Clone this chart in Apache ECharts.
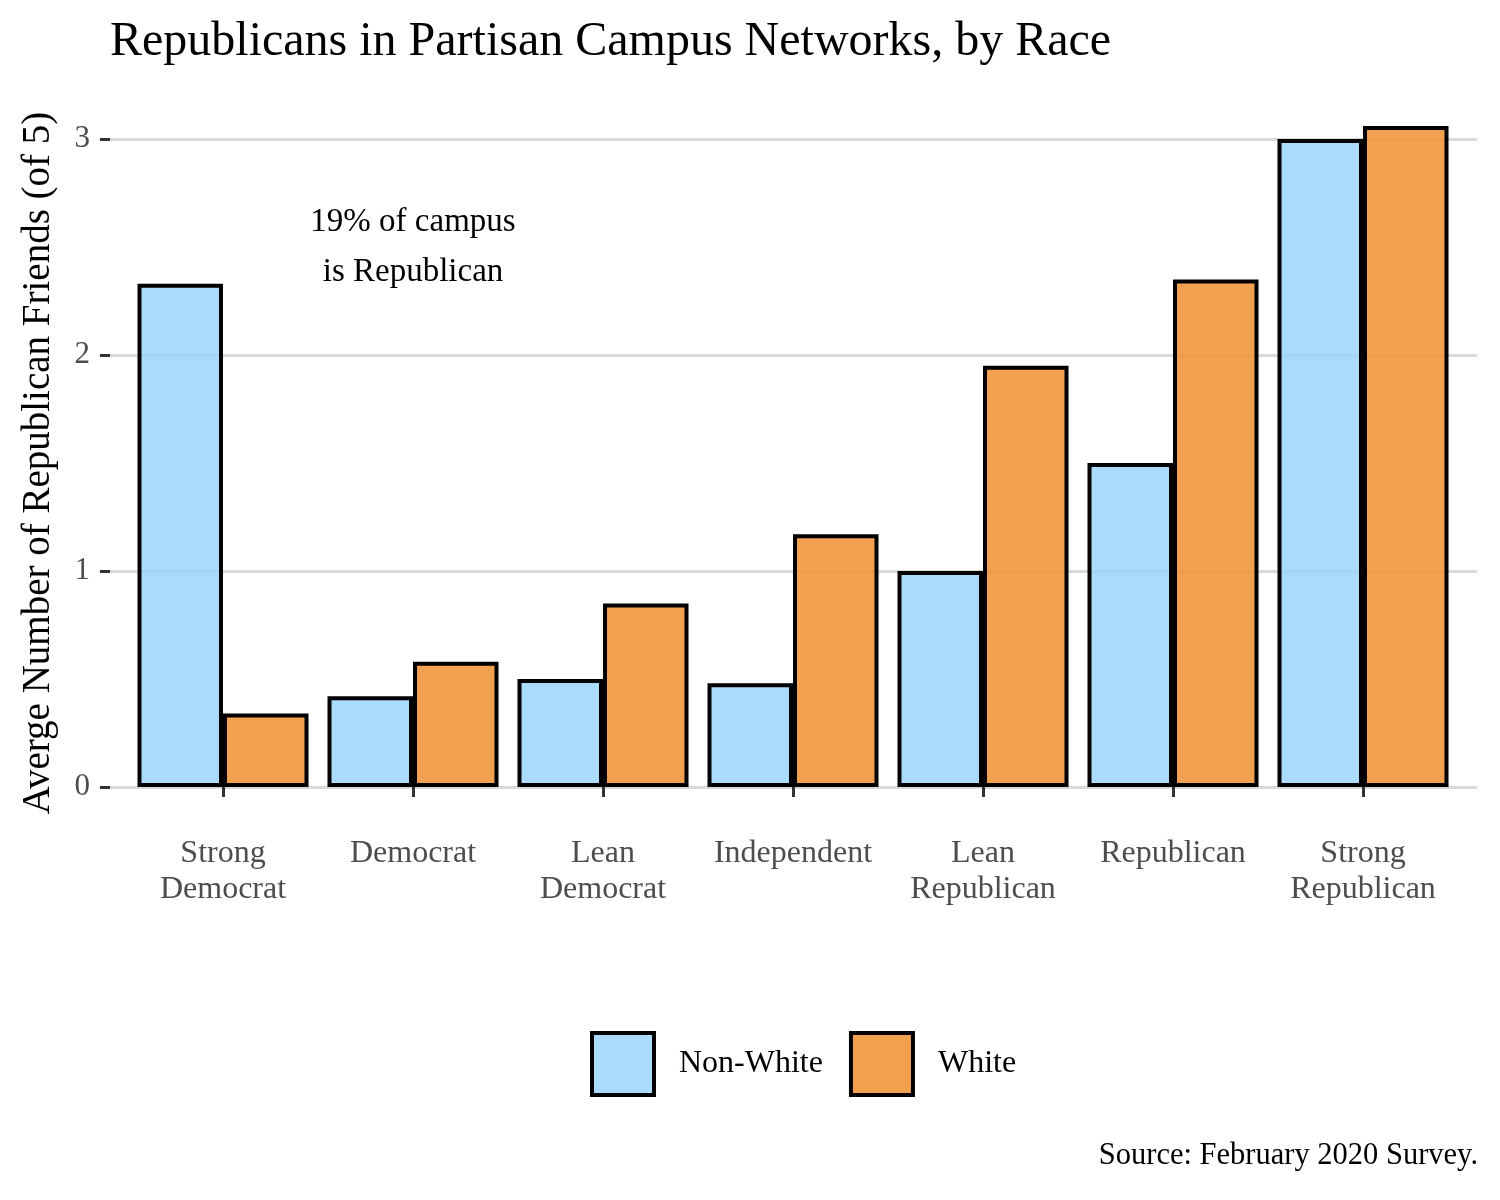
<!DOCTYPE html>
<html>
<head>
<meta charset="utf-8">
<script src="https://cdn.jsdelivr.net/npm/echarts@6/dist/echarts.min.js"></script>
<style>html,body{margin:0;padding:0;background:#fff}#c{width:1500px;height:1200px}</style>
</head>
<body>
<div id="c"></div>
<script>
const categories = ['Strong\nDemocrat','Democrat','Lean\nDemocrat','Independent','Lean\nRepublican','Republican','Strong\nRepublican'];
const nonWhite = [2.33, 0.42, 0.50, 0.48, 1.00, 1.50, 3.00];
const white = [0.34, 0.58, 0.85, 1.17, 1.95, 2.35, 3.06];
const yTicks = [0, 1, 2, 3];
const annotation = { category: 'Democrat', value: 2.5, text: '19% of campus\nis Republican' };

const FONT = 'Liberation Serif';
const chart = echarts.init(document.getElementById('c'));
chart.setOption({
  backgroundColor: '#fff',
  textStyle: { fontFamily: FONT },
  animation: false,
  grid: [
    { left: 110, right: 23, top: 139, bottom: 413 },
    { left: 128, right: 42, top: 139, bottom: 413 }
  ],
  xAxis: [
    { type: 'value', gridIndex: 0, min: 0, max: 1, show: false },
    { type: 'category', gridIndex: 1, data: categories, offset: 35,
      axisLine: { show: false },
      axisTick: { show: true, alignWithLabel: true, length: 10, lineStyle: { color: '#333', width: 3 } },
      axisLabel: { fontFamily: FONT, fontSize: 32, lineHeight: 36, color: '#4d4d4d', margin: 14, interval: 0 } }
  ],
  yAxis: [
    { type: 'value', gridIndex: 0, min: yTicks[0], max: yTicks[yTicks.length - 1], interval: 1,
      name: 'Averge Number of Republican Friends (of 5)', nameLocation: 'middle', nameGap: 52,
      nameTextStyle: { fontFamily: FONT, fontSize: 39, color: '#000' },
      axisLine: { show: false },
      axisTick: { show: true, length: 10, lineStyle: { color: '#333', width: 3 } },
      axisLabel: { fontFamily: FONT, fontSize: 31, color: '#4d4d4d', margin: 20 },
      splitLine: { show: true, lineStyle: { color: '#d9d9d9', width: 3 } } },
    { type: 'value', gridIndex: 1, min: 0, max: 3, show: false }
  ],
  legend: {
    data: ['Non-White', 'White'], left: 590, top: 1031, padding: 0,
    itemWidth: 62, itemHeight: 62, itemGap: 26, icon: 'rect',
    itemStyle: { borderColor: '#000', borderWidth: 4 },
    textStyle: { fontFamily: FONT, fontSize: 32, color: '#000', padding: [0, 0, 0, 20] }
  },
  series: [
    { name: 'Non-White', type: 'bar', xAxisIndex: 1, yAxisIndex: 1, data: nonWhite,
      barGap: '0%', barCategoryGap: '10%', clip: false,
      itemStyle: { color: 'rgba(150,210,250,0.8)', borderColor: '#000', borderWidth: 4 } },
    { name: 'White', type: 'bar', xAxisIndex: 1, yAxisIndex: 1, data: white,
      barGap: '0%', barCategoryGap: '10%', clip: false,
      itemStyle: { color: 'rgba(240,145,50,0.85)', borderColor: '#000', borderWidth: 4 } },
    { name: 'annotation', type: 'scatter', xAxisIndex: 1, yAxisIndex: 1, data: [],
      markPoint: {
        symbol: 'circle', symbolSize: 0,
        data: [{ coord: [annotation.category, annotation.value] }],
        label: { show: true, position: 'inside', formatter: annotation.text,
          fontFamily: FONT, fontSize: 33, lineHeight: 50, color: '#000' }
      } }
  ],
  graphic: [
    { type: 'text', left: 110, top: 18,
      style: { text: 'Republicans in Partisan Campus Networks, by Race', font: '48px "Liberation Serif"', fill: '#000' } },
    { type: 'text', right: 22, top: 1140,
      style: { text: 'Source: February 2020 Survey.', font: '30.5px "Liberation Serif"', fill: '#000' } }
  ]
});
</script>
</body>
</html>
